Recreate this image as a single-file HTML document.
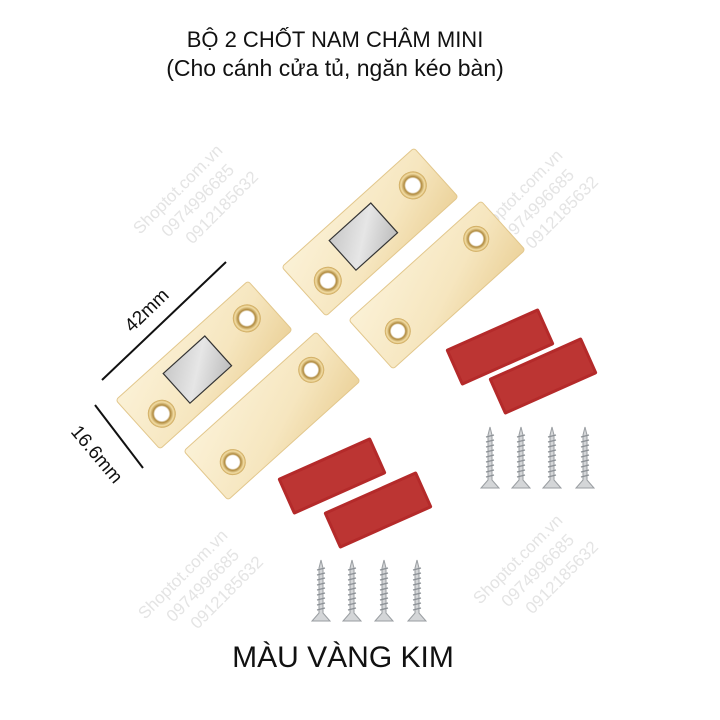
<!DOCTYPE html>
<html><head><meta charset="utf-8"><style>
html,body{margin:0;padding:0;background:#fff;}
svg{display:block}
text{font-family:"Liberation Sans","Noto Sans CJK SC",sans-serif;}
</style></head><body>
<svg width="720" height="720" viewBox="0 0 720 720" xmlns="http://www.w3.org/2000/svg">
<defs>
<linearGradient id="gold" x1="0" y1="0" x2="1" y2="1">
<stop offset="0" stop-color="#fbf1d6"/><stop offset="0.6" stop-color="#f6e6bf"/><stop offset="1" stop-color="#ecd39c"/>
</linearGradient>
<linearGradient id="mag" x1="0" y1="0" x2="1" y2="1">
<stop offset="0" stop-color="#c8c8c8"/><stop offset="0.5" stop-color="#e6e6e6"/><stop offset="1" stop-color="#bdbdbd"/>
</linearGradient>
<radialGradient id="hole"><stop offset="0.5" stop-color="#ffffff"/><stop offset="0.62" stop-color="#b08a3e"/><stop offset="0.85" stop-color="#f3dea6"/><stop offset="1" stop-color="#c9a253"/></radialGradient>
<g id="plateM">
<rect x="-89" y="-33" width="178" height="66" rx="3" fill="url(#gold)" stroke="#e2c78c" stroke-width="1"/>
<rect x="-36" y="-21" width="56" height="40" fill="url(#mag)" stroke="#333" stroke-width="1.2"/>
<circle cx="-64" cy="8" r="14" fill="url(#hole)"/>
<circle cx="63" cy="-6" r="14" fill="url(#hole)"/>
</g>
<g id="plate">
<rect x="-89" y="-33" width="178" height="66" rx="3" fill="url(#gold)" stroke="#e2c78c" stroke-width="1"/>
<circle cx="-60" cy="8" r="13" fill="url(#hole)"/>
<circle cx="60" cy="-8" r="13" fill="url(#hole)"/>
</g>
<g id="pad">
<rect x="-51" y="-20" width="102" height="40" rx="2" fill="#b42a2a"/>
<rect x="-48" y="-17" width="96" height="34" fill="#bf3a38" opacity="0.7"/>
</g>
<g id="screw">
<path d="M-9,61 L9,61 L2,53 L2,8 L0,0 L-2,8 L-2,53 Z" fill="#d4d6d8" stroke="#9a9ea2" stroke-width="1"/>
<path d="M-4,10 L4,8 M-4,15 L4,13 M-4,20 L4,18 M-4,25 L4,23 M-4,30 L4,28 M-4,35 L4,33 M-4,40 L4,38 M-4,45 L4,43 M-4,50 L4,48" stroke="#8c9196" stroke-width="1.4"/>
</g>
<g id="wm" fill="#e4e4e4" font-size="17">
<text x="0" y="0">Shoptot.com.vn</text>
<text x="18" y="22">0974996685</text>
<text x="30" y="44">0912185632</text>
</g>
</defs>

<use href="#wm" transform="translate(140,235) rotate(-45)"/>
<use href="#wm" transform="translate(480,240) rotate(-45)"/>
<use href="#wm" transform="translate(145,620) rotate(-45)"/>
<use href="#wm" transform="translate(480,605) rotate(-45)"/>

<text x="335" y="47" font-size="22" text-anchor="middle" fill="#111">BỘ 2 CHỐT NAM CHÂM MINI</text>
<text x="335" y="76" font-size="23" text-anchor="middle" fill="#111">(Cho cánh cửa tủ, ngăn kéo bàn)</text>

<use href="#plateM" transform="translate(370,232) rotate(-42)"/>
<use href="#plate" transform="translate(437,285) rotate(-42)"/>
<use href="#plateM" transform="translate(204,365) rotate(-42)"/>
<use href="#plate" transform="translate(272,416) rotate(-42)"/>

<use href="#pad" transform="translate(500,347) rotate(-24)"/>
<use href="#pad" transform="translate(543,376) rotate(-24)"/>
<use href="#pad" transform="translate(332,476) rotate(-24)"/>
<use href="#pad" transform="translate(378,510) rotate(-24)"/>

<use href="#screw" transform="translate(490,427)"/>
<use href="#screw" transform="translate(521,427)"/>
<use href="#screw" transform="translate(552,427)"/>
<use href="#screw" transform="translate(585,427)"/>
<use href="#screw" transform="translate(321,560)"/>
<use href="#screw" transform="translate(352,560)"/>
<use href="#screw" transform="translate(384,560)"/>
<use href="#screw" transform="translate(417,560)"/>

<line x1="102" y1="380" x2="226" y2="262" stroke="#111" stroke-width="2"/>
<line x1="95" y1="405" x2="143" y2="468" stroke="#111" stroke-width="2"/>
<text x="0" y="0" font-size="19" fill="#111" transform="translate(132,333) rotate(-44)">42mm</text>
<text x="0" y="0" font-size="19" fill="#111" transform="translate(70,432) rotate(50)">16.6mm</text>

<text x="343" y="667" font-size="30" text-anchor="middle" fill="#111">MÀU VÀNG KIM</text>
</svg>
</body></html>
